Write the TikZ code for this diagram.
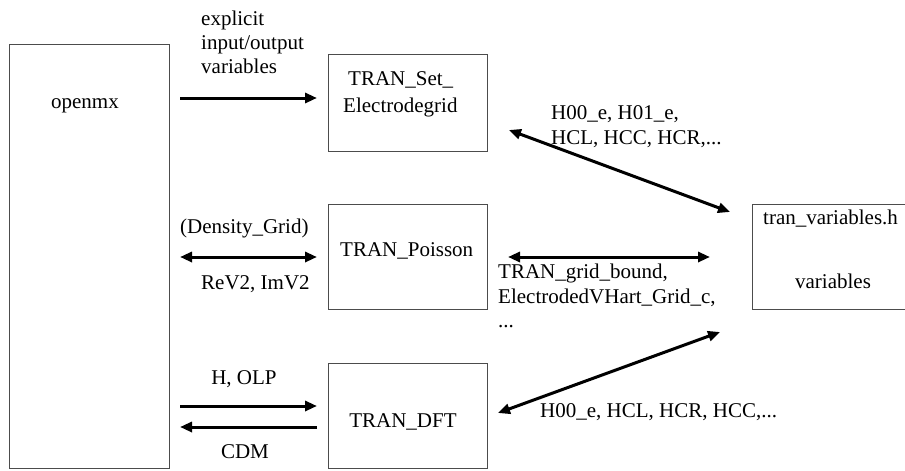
\documentclass[tikz,border=0pt]{standalone}
\usepackage{fontspec}
\setmainfont{Liberation Serif}
\usetikzlibrary{arrows.meta}
\begin{document}
\begin{tikzpicture}[x=1pt,y=-1pt,
  box/.style={draw=black!70,line width=1pt,inner sep=0pt,outer sep=0pt},
  lbl/.style={inner sep=0pt,anchor=base west,font=\fontsize{21}{25}\selectfont},
  lblc/.style={lbl,anchor=base},
  tipx/.tip={Triangle[length=12pt,width=10pt]},
  arr/.style={line width=3pt,-tipx},
  darr/.style={line width=3pt,tipx-tipx}]
\useasboundingbox (0,0) rectangle (905,471);
% boxes
\node[box,minimum width=160pt,minimum height=424pt] (openmx) at (89,256) {};
\node[box,minimum width=159pt,minimum height=97pt] (set) at (407.5,102.5) {};
\node[box,minimum width=159pt,minimum height=105pt] (poisson) at (407.5,256.5) {};
\node[box,minimum width=159pt,minimum height=105pt] (dft) at (407.5,415.5) {};
\node[box,minimum width=153pt,minimum height=105pt] (tran) at (828.5,256.5) {};
% box texts
\node[lblc] (t1) at (85,108) {openmx};
\node[lbl] (t2) at (348,85) {TRAN\_Set\_};
\node[lbl] (t3) at (343,112) {Electrodegrid};
\node[lbl] (t4) at (340,256) {TRAN\_Poisson};
\node[lblc] (t5) at (403,427) {TRAN\_DFT};
\node[lbl] (t6) at (763,224) {tran\_variables.h};
\node[lblc] (t7) at (833,288) {variables};
% connectors left
\draw[arr,shorten <=11pt,shorten >=11pt] (openmx.east |- 0,98) -- (set.west |- 0,98);
\draw[darr,shorten <=11pt,shorten >=11pt] (openmx.east |- 0,257) -- (poisson.west |- 0,257);
\draw[arr,shorten <=11pt,shorten >=11pt] (openmx.east |- 0,406) -- (dft.west |- 0,406);
\draw[arr,shorten <=11pt,shorten >=11pt] (dft.west |- 0,427) -- (openmx.east |- 0,427);
% connectors right
\coordinate (d1a) at (509,130);
\coordinate (d1b) at (730,212);
\draw[darr] (d1a) -- (d1b);
\draw[darr,shorten <=21pt,shorten >=42pt] (poisson.east |- 0,257) -- (tran.west |- 0,257);
\coordinate (d3a) at (498,413);
\coordinate (d3b) at (720,332);
\draw[darr] (d3a) -- (d3b);
% connector labels
\node[lbl] (l1) at (201,25) {explicit};
\node[lbl] (l2) at (201,49) {input/output};
\node[lbl] (l3) at (201,73) {variables};
\node[lbl] (l4) at (180,233) {(Density\_Grid)};
\node[lbl] (l5) at (201,289) {ReV2, ImV2};
\node[lblc] (l6) at (244,384) {H, OLP};
\node[lblc] (l7) at (245,458) {CDM};
\node[lbl] (l8) at (551,119) {H00\_e, H01\_e,};
\node[lbl] (l9) at (551,144) {HCL, HCC, HCR,...};
\node[lbl] (l10) at (498,278) {TRAN\_grid\_bound,};
\node[lbl] (l11) at (498,303) {ElectrodedVHart\_Grid\_c,};
\node[lbl] (l12) at (498,327) {...};
\node[lbl] (l13) at (540,417) {H00\_e, HCL, HCR, HCC,...};
\end{tikzpicture}
\end{document}
